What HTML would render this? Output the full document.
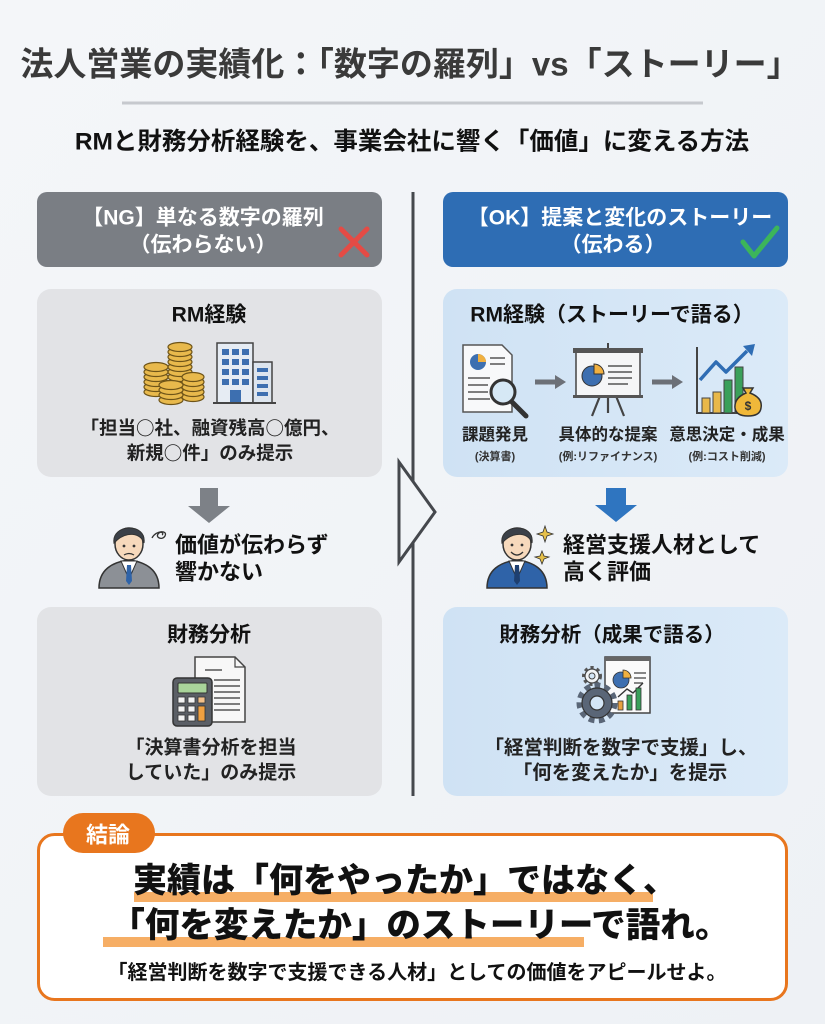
<!DOCTYPE html>
<html><head><meta charset="utf-8"><style>
html,body{margin:0;padding:0;background:#f1f4f7;}
svg{display:block;}
text{font-family:"Liberation Sans","Noto Sans CJK JP",sans-serif;font-weight:700;}
.cj{font-family:"Noto Sans CJK JP",sans-serif;}
</style></head><body>
<svg width="825" height="1024" viewBox="0 0 825 1024" xmlns="http://www.w3.org/2000/svg">
<defs>
<linearGradient id="bg" x1="0" y1="0" x2="1" y2="1"><stop offset="0" stop-color="#f4f6f9"/><stop offset="1" stop-color="#eef1f5"/></linearGradient>
<linearGradient id="blu" x1="0" y1="0" x2="1" y2="0"><stop offset="0" stop-color="#cfe2f4"/><stop offset="1" stop-color="#dbeaf8"/></linearGradient>
</defs>
<rect width="825" height="1024" fill="url(#bg)"/>

<!-- Title -->
<text x="410" y="64" font-size="33" fill="#3a3a3a" text-anchor="middle" dominant-baseline="central">法人営業の実績化：「数字の羅列」vs「ストーリー」</text>
<line x1="122" y1="103" x2="703" y2="103" stroke="#c6c9ce" stroke-width="3"/>
<text x="412" y="142" font-size="24.5" fill="#111" text-anchor="middle" dominant-baseline="central">RMと財務分析経験を、事業会社に響く「価値」に変える方法</text>

<!-- Headers -->
<rect x="37" y="192" width="345" height="75" rx="10" fill="#7a7e84"/>
<text x="203" y="218" font-size="21" fill="#fff" text-anchor="middle" dominant-baseline="central">【NG】単なる数字の羅列</text>
<text x="203" y="245" font-size="21" fill="#fff" text-anchor="middle" dominant-baseline="central">（伝わらない）</text>
<line x1="341" y1="229" x2="367" y2="255" stroke="#e44b45" stroke-width="5" stroke-linecap="round"/>
<line x1="367" y1="229" x2="341" y2="255" stroke="#e44b45" stroke-width="5" stroke-linecap="round"/>

<rect x="443" y="192" width="345" height="75" rx="10" fill="#2e6db4"/>
<text x="620" y="218" font-size="21" fill="#fff" text-anchor="middle" dominant-baseline="central">【OK】提案と変化のストーリー</text>
<text x="613" y="245" font-size="21" fill="#fff" text-anchor="middle" dominant-baseline="central">（伝わる）</text>
<polyline points="743,242 754,256 777,228" fill="none" stroke="#3cb55a" stroke-width="5" stroke-linecap="round" stroke-linejoin="round"/>

<!-- Divider -->
<line x1="413" y1="192" x2="413" y2="796" stroke="#45484d" stroke-width="3"/>
<polygon points="399,462 435,512 399,562" fill="#f1f4f7" stroke="#45484d" stroke-width="3" stroke-linejoin="miter"/>

<!-- Cards -->
<rect x="37" y="289" width="345" height="188" rx="14" fill="#e2e3e6"/>
<rect x="443" y="289" width="345" height="188" rx="14" fill="url(#blu)"/>
<rect x="37" y="607" width="345" height="189" rx="14" fill="#e2e3e6"/>
<rect x="443" y="607" width="345" height="189" rx="14" fill="url(#blu)"/>

<!-- Left card 1 -->
<text x="209" y="315" font-size="21" fill="#111" text-anchor="middle" dominant-baseline="central">RM経験</text>
<g fill="#e8b94c" stroke="#6e5418" stroke-width="1.2">
<ellipse cx="180" cy="377" rx="12" ry="4.5"/><ellipse cx="180" cy="372" rx="12" ry="4.5"/><ellipse cx="180" cy="367" rx="12" ry="4.5"/><ellipse cx="180" cy="362" rx="12" ry="4.5"/><ellipse cx="180" cy="357" rx="12" ry="4.5"/><ellipse cx="180" cy="352" rx="12" ry="4.5"/><ellipse cx="180" cy="347" rx="12" ry="4.5"/>
<ellipse cx="156" cy="392" rx="12" ry="4.5"/><ellipse cx="156" cy="387" rx="12" ry="4.5"/><ellipse cx="156" cy="382" rx="12" ry="4.5"/><ellipse cx="156" cy="377" rx="12" ry="4.5"/><ellipse cx="156" cy="372" rx="12" ry="4.5"/><ellipse cx="156" cy="367" rx="12" ry="4.5"/>
<ellipse cx="193" cy="397" rx="11" ry="4.5"/><ellipse cx="193" cy="392" rx="11" ry="4.5"/><ellipse cx="193" cy="387" rx="11" ry="4.5"/><ellipse cx="193" cy="382" rx="11" ry="4.5"/><ellipse cx="193" cy="377" rx="11" ry="4.5"/>
<ellipse cx="171" cy="400" rx="12" ry="4.5"/><ellipse cx="171" cy="395" rx="12" ry="4.5"/><ellipse cx="171" cy="390" rx="12" ry="4.5"/><ellipse cx="171" cy="385" rx="12" ry="4.5"/>
</g>
<g stroke="#444" stroke-width="1.5">
<rect x="217" y="343" width="36" height="60" fill="#e6ecf3"/>
<rect x="253" y="362" width="19" height="41" fill="#dde5ee"/>
</g>
<g fill="#3d6fb0">
<rect x="222" y="349" width="7" height="6"/><rect x="232" y="349" width="7" height="6"/><rect x="242" y="349" width="7" height="6"/>
<rect x="222" y="359" width="7" height="6"/><rect x="232" y="359" width="7" height="6"/><rect x="242" y="359" width="7" height="6"/>
<rect x="222" y="369" width="7" height="6"/><rect x="232" y="369" width="7" height="6"/><rect x="242" y="369" width="7" height="6"/>
<rect x="222" y="379" width="7" height="6"/><rect x="232" y="379" width="7" height="6"/><rect x="242" y="379" width="7" height="6"/>
<rect x="230" y="390" width="11" height="13"/>
<rect x="257" y="368" width="11" height="4"/><rect x="257" y="376" width="11" height="4"/><rect x="257" y="384" width="11" height="4"/><rect x="257" y="392" width="11" height="4"/>
</g>
<line x1="213" y1="403" x2="276" y2="403" stroke="#444" stroke-width="2"/>
<text x="210" y="428" font-size="18.5" fill="#222" text-anchor="middle" dominant-baseline="central">「担当<tspan class="cj">○</tspan>社、融資残高<tspan class="cj">○</tspan>億円、</text>
<text x="210" y="453" font-size="18.5" fill="#222" text-anchor="middle" dominant-baseline="central">新規<tspan class="cj">○</tspan>件」のみ提示</text>

<!-- Gray arrow + sad person -->
<polygon points="200,488 218,488 218,506 230,506 209,523 188,506 200,506" fill="#7d8187"/>
<path d="M99,588 C99,570 112,562 129,560 C146,562 159,570 159,588 Z" fill="#8c9096" stroke="#333" stroke-width="1.5"/>
<polygon points="121,561 137,561 129,579" fill="#fff" stroke="#333" stroke-width="1"/>
<polygon points="127,565 131,565 132,581 129,585 126,581" fill="#2f63a8"/>
<ellipse cx="129" cy="544" rx="14" ry="16" fill="#f7d9bc" stroke="#333" stroke-width="1.5"/>
<path d="M114,543 C111,524 147,522 144,543 C141,533 126,530 114,543 Z" fill="#3b4048" stroke="#333" stroke-width="1"/>
<circle cx="124" cy="546" r="1.4" fill="#333"/><circle cx="134" cy="546" r="1.4" fill="#333"/>
<path d="M124,555 Q129,552 134,555" fill="none" stroke="#333" stroke-width="1.2"/>
<path d="M152,538 C156,530 168,530 165,536 C162,541 154,537 159,533 C162,531 164,534 162,535" fill="none" stroke="#333" stroke-width="1.3"/>
<text x="175" y="545" font-size="22" fill="#111" dominant-baseline="central">価値が伝わらず</text>
<text x="175" y="572" font-size="22" fill="#111" dominant-baseline="central">響かない</text>

<!-- Right card 1 -->
<text x="612" y="315" font-size="21" fill="#111" text-anchor="middle" dominant-baseline="central">RM経験（ストーリーで語る）</text>
<path d="M463,345 L502,345 L512,355 L512,412 L463,412 Z" fill="#f8f9fa" stroke="#555" stroke-width="1.5"/>
<circle cx="478" cy="362" r="8" fill="#3d6fb0"/>
<path d="M478,362 L478,354 A8,8 0 0,1 486,362 Z" fill="#f0b040"/>
<g stroke="#555" stroke-width="1.5"><line x1="490" y1="358" x2="505" y2="358"/><line x1="490" y1="364" x2="505" y2="364"/><line x1="468" y1="378" x2="490" y2="378"/><line x1="468" y1="385" x2="488" y2="385"/><line x1="468" y1="392" x2="488" y2="392"/><line x1="468" y1="399" x2="490" y2="399"/></g>
<line x1="511" y1="401" x2="526" y2="416" stroke="#333" stroke-width="5" stroke-linecap="round"/>
<circle cx="503" cy="392" r="12" fill="#d6e8f5" stroke="#333" stroke-width="3"/>
<line x1="535" y1="382" x2="556" y2="382" stroke="#6c7077" stroke-width="5"/>
<polygon points="555,375 566,382 555,389" fill="#6c7077"/>
<line x1="608" y1="343" x2="608" y2="350" stroke="#444" stroke-width="2"/>
<g stroke="#444" stroke-width="2.2"><line x1="600" y1="396" x2="592" y2="416"/><line x1="616" y1="396" x2="624" y2="416"/><line x1="608" y1="396" x2="608" y2="413"/></g>
<rect x="576" y="352" width="64" height="45" fill="#f5f6f7" stroke="#444" stroke-width="1.5"/>
<rect x="573" y="348" width="70" height="5" fill="#555"/>
<rect x="573" y="395" width="70" height="3" fill="#555"/>
<circle cx="592" cy="376" r="10" fill="#3d6fb0" stroke="#333" stroke-width="1"/>
<path d="M594,374 L594,364 A10,10 0 0,1 604,374 Z" fill="#f0b040" stroke="#333" stroke-width="1"/>
<g stroke="#555" stroke-width="1.6"><line x1="608" y1="366" x2="632" y2="366"/><line x1="608" y1="372" x2="632" y2="372"/><line x1="608" y1="378" x2="632" y2="378"/><line x1="608" y1="384" x2="628" y2="384"/></g>
<line x1="652" y1="382" x2="673" y2="382" stroke="#6c7077" stroke-width="5"/>
<polygon points="672,375 683,382 672,389" fill="#6c7077"/>
<polyline points="697,347 697,413 746,413" fill="none" stroke="#444" stroke-width="2"/>
<rect x="702" y="398" width="8" height="15" fill="#e8b84a" stroke="#444" stroke-width="1"/>
<rect x="713" y="392" width="8" height="21" fill="#e8b84a" stroke="#444" stroke-width="1"/>
<rect x="724" y="380" width="8" height="33" fill="#3aa05a" stroke="#444" stroke-width="1"/>
<rect x="735" y="367" width="8" height="46" fill="#3aa05a" stroke="#444" stroke-width="1"/>
<polyline points="700,380 716,362 726,372 747,351" fill="none" stroke="#2f6db4" stroke-width="3.5" stroke-linejoin="round"/>
<polygon points="743,346 755,344 752,356" fill="#2f6db4"/>
<path d="M743,388 L753,388 L750,393 Q763,398 761,408 Q760,416 748,416 Q736,416 735,408 Q734,398 746,393 Z" fill="#f0b83a" stroke="#333" stroke-width="1.5"/>
<text x="748" y="406" font-size="12" fill="#333" text-anchor="middle" dominant-baseline="central">$</text>
<text x="495" y="435" font-size="16.5" fill="#222" text-anchor="middle" dominant-baseline="central">課題発見</text>
<text x="608" y="435" font-size="16.5" fill="#222" text-anchor="middle" dominant-baseline="central">具体的な提案</text>
<text x="727" y="435" font-size="16.5" fill="#222" text-anchor="middle" dominant-baseline="central">意思決定・成果</text>
<text x="495" y="457" font-size="11" fill="#333" text-anchor="middle" dominant-baseline="central">(決算書)</text>
<text x="608" y="457" font-size="11" fill="#333" text-anchor="middle" dominant-baseline="central">(例:リファイナンス)</text>
<text x="727" y="457" font-size="11" fill="#333" text-anchor="middle" dominant-baseline="central">(例:コスト削減)</text>

<!-- Blue arrow + happy person -->
<polygon points="606,488 626,488 626,505 637,505 616,522 595,505 606,505" fill="#2f75c0"/>
<path d="M487,588 C487,570 500,562 517,560 C534,562 547,570 547,588 Z" fill="#2f63a8" stroke="#333" stroke-width="1.5"/>
<polygon points="509,561 525,561 517,579" fill="#fff" stroke="#333" stroke-width="1"/>
<polygon points="515,565 519,565 520,581 517,585 514,581" fill="#1e3f70"/>
<ellipse cx="517" cy="544" rx="14" ry="16" fill="#f7d9bc" stroke="#333" stroke-width="1.5"/>
<path d="M502,543 C499,524 535,522 532,543 C529,533 514,530 502,543 Z" fill="#3b4048" stroke="#333" stroke-width="1"/>
<circle cx="512" cy="545" r="1.4" fill="#333"/><circle cx="522" cy="545" r="1.4" fill="#333"/>
<path d="M511,552 Q517,558 523,552" fill="none" stroke="#333" stroke-width="1.3"/>
<path d="M545,526 L547,532 L553,534 L547,536 L545,542 L543,536 L537,534 L543,532 Z" fill="#e6c04a" stroke="#333" stroke-width="0.8"/>
<path d="M542,551 L544,556 L549,557 L544,559 L542,564 L540,559 L535,557 L540,556 Z" fill="#e6c04a" stroke="#333" stroke-width="0.8"/>
<text x="563" y="545" font-size="22" fill="#111" dominant-baseline="central">経営支援人材として</text>
<text x="563" y="572" font-size="22" fill="#111" dominant-baseline="central">高く評価</text>

<!-- Left card 2 -->
<text x="209" y="635" font-size="21" fill="#111" text-anchor="middle" dominant-baseline="central">財務分析</text>
<path d="M195,657 L235,657 L245,667 L245,722 L195,722 Z" fill="#f7f7f7" stroke="#444" stroke-width="1.5"/>
<path d="M235,657 L235,667 L245,667" fill="none" stroke="#444" stroke-width="1.2"/>
<g stroke="#555" stroke-width="1.5"><line x1="205" y1="670" x2="222" y2="670"/><line x1="214" y1="680" x2="240" y2="680"/><line x1="214" y1="686" x2="240" y2="686"/><line x1="214" y1="692" x2="240" y2="692"/><line x1="214" y1="698" x2="240" y2="698"/><line x1="214" y1="704" x2="240" y2="704"/><line x1="214" y1="710" x2="240" y2="710"/></g>
<rect x="173" y="678" width="39" height="48" rx="4" fill="#5b5f66" stroke="#333" stroke-width="1.5"/>
<rect x="178" y="683" width="29" height="10" rx="1" fill="#a9d49a" stroke="#333" stroke-width="1"/>
<g fill="#f3f3f3" stroke="#333" stroke-width="0.8">
<rect x="178" y="697" width="7" height="6"/><rect x="188" y="697" width="7" height="6"/><rect x="198" y="697" width="7" height="6" fill="#f2c08a"/>
<rect x="178" y="706" width="7" height="6"/><rect x="188" y="706" width="7" height="6"/>
<rect x="178" y="715" width="7" height="6"/><rect x="188" y="715" width="7" height="6"/>
<rect x="198" y="706" width="7" height="15" fill="#f0a040"/>
</g>
<text x="211" y="748" font-size="19" fill="#222" text-anchor="middle" dominant-baseline="central">「決算書分析を担当</text>
<text x="211" y="773" font-size="19" fill="#222" text-anchor="middle" dominant-baseline="central">していた」のみ提示</text>

<!-- Right card 2 -->
<text x="612" y="635" font-size="20.5" fill="#111" text-anchor="middle" dominant-baseline="central">財務分析（成果で語る）</text>
<rect x="605" y="657" width="45" height="56" fill="#fafafa" stroke="#444" stroke-width="1.5"/>
<rect x="605" y="657" width="45" height="4" fill="#666"/>
<circle cx="621" cy="680" r="8" fill="#3d6fb0" stroke="#333" stroke-width="0.8"/>
<path d="M623,678 L623,670 A8,8 0 0,1 631,678 Z" fill="#f0b040" stroke="#333" stroke-width="0.8"/>
<g stroke="#555" stroke-width="1.4"><line x1="634" y1="673" x2="646" y2="673"/><line x1="634" y1="678" x2="646" y2="678"/><line x1="634" y1="683" x2="643" y2="683"/></g>
<polyline points="618,697 627,689 633,693 643,683" fill="none" stroke="#333" stroke-width="1.4"/>
<rect x="618" y="701" width="5" height="9" fill="#e8a040" stroke="#333" stroke-width="0.8"/>
<rect x="627" y="695" width="5" height="15" fill="#3aa05a" stroke="#333" stroke-width="0.8"/>
<rect x="636" y="688" width="5" height="22" fill="#3aa05a" stroke="#333" stroke-width="0.8"/>
<circle cx="592" cy="676" r="8" fill="none" stroke="#555" stroke-width="4" stroke-dasharray="3 3"/>
<circle cx="592" cy="676" r="7" fill="#f2f4f6" stroke="#444" stroke-width="1.2"/>
<circle cx="592" cy="676" r="3" fill="#d4e6f6" stroke="#444" stroke-width="1"/>
<circle cx="597" cy="703" r="17" fill="none" stroke="#5a6677" stroke-width="7" stroke-dasharray="5.5 4.2"/>
<circle cx="597" cy="703" r="15" fill="#5a6677" stroke="#333" stroke-width="1.2"/>
<circle cx="597" cy="703" r="7" fill="#d4e6f6" stroke="#333" stroke-width="1.2"/>
<text x="621" y="748" font-size="19.5" fill="#222" text-anchor="middle" dominant-baseline="central">「経営判断を数字で支援」し、</text>
<text x="620" y="773" font-size="19.5" fill="#222" text-anchor="middle" dominant-baseline="central">「何を変えたか」を提示</text>

<!-- Conclusion -->
<rect x="38.5" y="834.5" width="748" height="165" rx="16" fill="#fff" stroke="#e8761e" stroke-width="3"/>
<rect x="63" y="813" width="92" height="40" rx="20" fill="#e8761e"/>
<text x="108" y="835" font-size="22" fill="#fff" text-anchor="middle" dominant-baseline="central">結論</text>
<rect x="134" y="892" width="519" height="10" fill="#f5a04a" opacity="0.85"/>
<rect x="103" y="937" width="481" height="10" fill="#f5a04a" opacity="0.85"/>
<text x="405" y="881" font-size="34" fill="#111" text-anchor="middle" dominant-baseline="central" style="font-weight:900">実績は「何をやったか」ではなく、</text>
<text x="420" y="926" font-size="34.5" fill="#111" text-anchor="middle" dominant-baseline="central" style="font-weight:900">「何を変えたか」のストーリーで語れ。</text>
<text x="417" y="973" font-size="20" fill="#111" text-anchor="middle" dominant-baseline="central">「経営判断を数字で支援できる人材」としての価値をアピールせよ。</text>
</svg>
</body></html>
